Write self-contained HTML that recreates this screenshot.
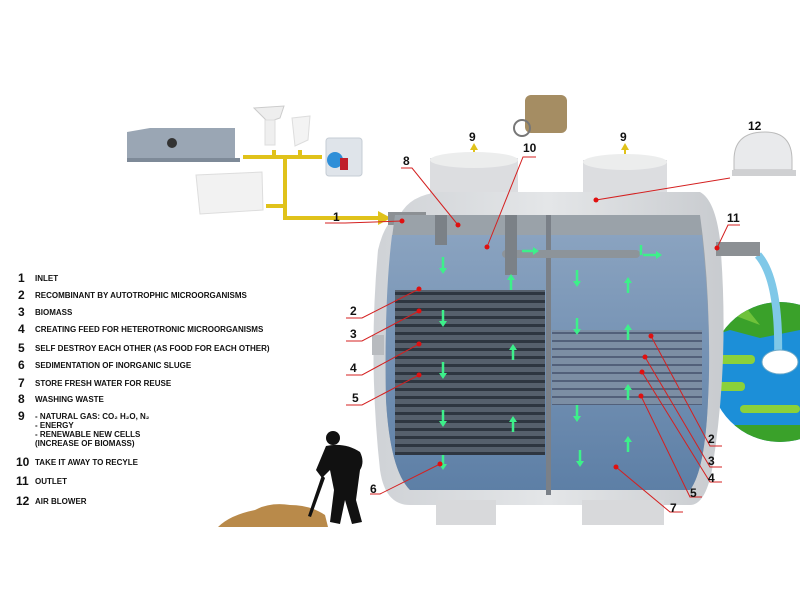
<!DOCTYPE html>
<html><head><meta charset="utf-8"><style>
body{margin:0;background:#fff;}
svg text{font-family:"Liberation Sans",Arial,sans-serif;font-weight:bold;}
</style></head><body>
<svg width="800" height="600" viewBox="0 0 800 600" xmlns="http://www.w3.org/2000/svg">
<defs>
<linearGradient id="water" x1="0" y1="0" x2="0" y2="1"><stop offset="0" stop-color="#8aa3c0"/><stop offset="1" stop-color="#5d7fa6"/></linearGradient>
<linearGradient id="shell" x1="0" y1="0" x2="1" y2="0"><stop offset="0" stop-color="#cfd2d6"/><stop offset="0.5" stop-color="#e4e6e8"/><stop offset="1" stop-color="#c8cbcf"/></linearGradient>
<pattern id="grid" width="8" height="8" patternUnits="userSpaceOnUse"><rect width="8" height="8" fill="#56606c"/><rect width="8" height="3" y="4" fill="#2e3640"/></pattern>
<pattern id="grid2" width="8" height="8" patternUnits="userSpaceOnUse"><rect width="8" height="8" fill="#7c8ea4"/><rect width="8" height="2" y="4" fill="#52607a"/></pattern>
<clipPath id="earth"><circle cx="780" cy="372" r="70"/></clipPath>
</defs>

<!-- Legend -->
<g font-size="8" fill="#111">
<text x="18" y="282" font-size="12">1</text><text x="35" y="281">INLET</text>
<text x="18" y="299" font-size="12">2</text><text x="35" y="298">RECOMBINANT BY AUTOTROPHIC MICROORGANISMS</text>
<text x="18" y="316" font-size="12">3</text><text x="35" y="315">BIOMASS</text>
<text x="18" y="333" font-size="12">4</text><text x="35" y="332">CREATING FEED FOR HETEROTRONIC MICROORGANISMS</text>
<text x="18" y="352" font-size="12">5</text><text x="35" y="351">SELF DESTROY EACH OTHER (AS FOOD FOR EACH OTHER)</text>
<text x="18" y="369" font-size="12">6</text><text x="35" y="368">SEDIMENTATION OF INORGANIC SLUGE</text>
<text x="18" y="387" font-size="12">7</text><text x="35" y="386">STORE FRESH WATER FOR REUSE</text>
<text x="18" y="403" font-size="12">8</text><text x="35" y="402">WASHING WASTE</text>
<text x="18" y="420" font-size="12">9</text><text x="35" y="419">- NATURAL GAS: CO₂ H₂O, N₂</text>
<text x="35" y="428">- ENERGY</text><text x="35" y="437">- RENEWABLE NEW CELLS</text><text x="35" y="446">(INCREASE OF BIOMASS)</text>
<text x="16" y="466" font-size="12">10</text><text x="35" y="465">TAKE IT AWAY TO RECYLE</text>
<text x="16" y="485" font-size="12">11</text><text x="35" y="484">OUTLET</text>
<text x="16" y="505" font-size="12">12</text><text x="35" y="504">AIR BLOWER</text>
</g>

<!-- Appliances -->
<path d="M127 160 L127 132 L150 128 L235 128 L235 158 L240 160 Z" fill="#9aa6b4"/>
<rect x="127" y="158" width="113" height="4" fill="#7e8a98"/>
<circle cx="172" cy="143" r="5" fill="#333"/>
<path d="M196 175 L262 172 L263 210 L200 214 Z" fill="#f2f2f2" stroke="#ddd"/>
<path d="M254 108 L284 106 L280 118 L268 122 Z" fill="#eee" stroke="#ccc"/><rect x="265" y="120" width="10" height="25" fill="#efefef" stroke="#ddd"/>
<path d="M292 118 L310 116 L308 140 L295 146 Z" fill="#f3f3f3" stroke="#ddd"/>
<rect x="326" y="138" width="36" height="38" rx="3" fill="#dfe4ea" stroke="#c5ccd4"/><circle cx="335" cy="160" r="8" fill="#2f8fd8"/><rect x="340" y="158" width="8" height="12" fill="#c0202c"/>

<!-- Yellow pipes -->
<g stroke="#e0c21a" stroke-width="4" fill="none">
<path d="M243 157 L322 157"/><path d="M274 157 L274 150 M300 157 L300 150"/>
<path d="M285 157 L285 218 L380 218"/><path d="M266 206 L285 206"/>
</g>
<polygon points="378,211 391,218 378,225" fill="#e0c21a"/>
<line x1="474" y1="176" x2="474" y2="148" stroke="#e0c21a" stroke-width="2"/><polygon points="470,150 474,143 478,150" fill="#e0c21a"/>
<line x1="625" y1="176" x2="625" y2="148" stroke="#e0c21a" stroke-width="2"/><polygon points="621,150 625,143 629,150" fill="#e0c21a"/>

<!-- Bicycle/bag -->
<rect x="525" y="95" width="42" height="38" rx="6" fill="#a58d63"/><circle cx="522" cy="128" r="8" fill="none" stroke="#777" stroke-width="2"/>

<!-- Blower -->
<path d="M734 160 Q734 132 765 132 Q792 132 792 160 L792 170 L734 170 Z" fill="#e9eaec" stroke="#bbb"/>
<rect x="732" y="170" width="64" height="6" fill="#cfd0d2"/>

<!-- Earth -->
<g clip-path="url(#earth)">
<rect x="700" y="300" width="100" height="150" fill="#1c8fd8"/>
<path d="M700 300 L800 300 L800 330 L760 338 L730 330 L700 340 Z" fill="#3aa12a"/>
<path d="M720 310 L740 300 L760 325 Z" fill="#6fc23a"/>
<rect x="715" y="355" width="40" height="9" rx="4" fill="#8bd13a"/>
<rect x="705" y="382" width="40" height="9" rx="4" fill="#8bd13a"/>
<rect x="740" y="405" width="60" height="8" rx="4" fill="#8bd13a"/>
<path d="M700 425 L800 425 L800 450 L700 450 Z" fill="#3aa12a"/>
</g>
<path d="M758 255 Q780 280 778 360" stroke="#7fc8e8" stroke-width="8" fill="none"/>
<ellipse cx="780" cy="362" rx="18" ry="12" fill="#fff" stroke="#6aa8c8"/>

<!-- Tank shell -->
<rect x="430" y="158" width="88" height="45" fill="#dcdde0"/><ellipse cx="474" cy="160" rx="44" ry="8" fill="#eceded"/>
<rect x="583" y="160" width="84" height="43" fill="#dcdde0"/><ellipse cx="625" cy="162" rx="42" ry="8" fill="#eceded"/>
<path d="M400 215 Q410 195 440 192 L700 192 Q715 200 720 240 Q730 360 712 470 Q705 505 690 505 L410 505 Q385 505 380 470 Q368 360 378 250 Q385 220 400 215 Z" fill="url(#shell)"/>
<rect x="388" y="212" width="38" height="13" fill="#8c9094"/>
<rect x="716" y="242" width="44" height="14" fill="#8c9094"/>
<rect x="372" y="335" width="12" height="20" fill="#b8bbbf"/>
<rect x="436" y="500" width="60" height="25" fill="#d8d9db"/><rect x="582" y="500" width="82" height="25" fill="#d8d9db"/>
<!-- interior -->
<path d="M395 215 L700 215 Q712 300 708 400 Q705 470 690 490 L410 490 Q390 470 386 400 Q384 290 395 215 Z" fill="#9aa2a9"/>
<path d="M392 235 L702 235 Q712 330 708 400 Q705 470 690 490 L410 490 Q390 470 386 400 Q384 300 392 235 Z" fill="url(#water)"/>
<rect x="395" y="290" width="150" height="165" fill="url(#grid)"/>
<rect x="552" y="330" width="150" height="75" fill="url(#grid2)"/>
<rect x="546" y="215" width="5" height="280" fill="#7a8088"/>
<rect x="502" y="250" width="138" height="8" rx="4" fill="#8d949a"/>
<rect x="505" y="215" width="12" height="60" fill="#7b8187"/>
<rect x="435" y="215" width="12" height="30" fill="#7b8187"/>

<!-- green arrows -->
<g fill="#3df08a" stroke="#3df08a" stroke-width="2.5">
<path d="M443 257 v12 M443 310 v12 M443 362 v12 M443 410 v12 M443 455 v10 M577 270 v12 M577 318 v12 M577 405 v12 M580 450 v12" fill="none"/>
<path d="M511 290 v-12 M513 360 v-12 M513 432 v-12 M628 293 v-12 M628 340 v-12 M628 400 v-12 M628 452 v-12 M641 255 v-10 M522 251 h12 M643 255 h14" fill="none"/>
</g>
<g fill="#3df08a">
<polygon points="439,268 447,268 443,274"/><polygon points="439,321 447,321 443,327"/><polygon points="439,373 447,373 443,379"/><polygon points="439,421 447,421 443,427"/><polygon points="439,464 447,464 443,470"/>
<polygon points="573,281 581,281 577,287"/><polygon points="573,329 581,329 577,335"/><polygon points="573,416 581,416 577,422"/><polygon points="576,461 584,461 580,467"/>
<polygon points="507,280 515,280 511,274"/><polygon points="509,350 517,350 513,344"/><polygon points="509,422 517,422 513,416"/>
<polygon points="624,283 632,283 628,277"/><polygon points="624,330 632,330 628,324"/><polygon points="624,390 632,390 628,384"/><polygon points="624,442 632,442 628,436"/>
<polygon points="533,247 533,255 539,251"/><polygon points="656,251 656,259 662,255"/>
</g>

<!-- red leader lines and dots -->
<g stroke="#d42020" stroke-width="1" fill="none">
<path d="M325 223 L345 223 L402 221"/>
<path d="M346 318 L362 318 L419 289"/><path d="M346 341 L362 341 L419 311"/><path d="M346 375 L362 375 L419 344"/><path d="M346 405 L362 405 L419 375"/>
<path d="M370 494 L380 494 L440 464"/>
<path d="M401 168 L412 168 L458 225"/><path d="M536 157 L523 157 L487 247"/>
<path d="M596 200 L730 178"/><path d="M740 225 L728 225 L717 248"/>
<path d="M722 446 L710 446 L651 336"/><path d="M722 467 L710 467 L645 357"/><path d="M722 482 L710 482 L642 372"/><path d="M702 497 L690 497 L641 396"/><path d="M683 512 L670 512 L616 467"/>
</g>
<g fill="#e01010">
<circle cx="402" cy="221" r="2.5"/><circle cx="419" cy="289" r="2.5"/><circle cx="419" cy="311" r="2.5"/><circle cx="419" cy="344" r="2.5"/><circle cx="419" cy="375" r="2.5"/>
<circle cx="440" cy="464" r="2.5"/><circle cx="458" cy="225" r="2.5"/><circle cx="487" cy="247" r="2.5"/><circle cx="596" cy="200" r="2.5"/><circle cx="717" cy="248" r="2.5"/>
<circle cx="651" cy="336" r="2.5"/><circle cx="645" cy="357" r="2.5"/><circle cx="642" cy="372" r="2.5"/><circle cx="641" cy="396" r="2.5"/><circle cx="616" cy="467" r="2.5"/>
</g>
<g font-size="12" fill="#111">
<text x="333" y="221">1</text><text x="350" y="315">2</text><text x="350" y="338">3</text><text x="350" y="372">4</text><text x="352" y="402">5</text><text x="370" y="493">6</text>
<text x="403" y="165">8</text><text x="469" y="141">9</text><text x="620" y="141">9</text><text x="523" y="152">10</text><text x="727" y="222">11</text><text x="748" y="130">12</text>
<text x="708" y="443">2</text><text x="708" y="465">3</text><text x="708" y="482">4</text><text x="690" y="497">5</text><text x="670" y="512">7</text>
</g>

<!-- Dirt pile and man -->
<path d="M218 527 Q230 515 255 510 Q270 502 290 505 Q310 505 325 515 L328 527 Z" fill="#b98a4a"/>
<g fill="#111">
<circle cx="333" cy="438" r="7"/>
<path d="M326 446 Q345 442 360 452 Q365 462 360 470 L356 500 L362 522 L352 524 L345 500 L340 524 L330 522 L334 490 L330 470 L322 478 L316 470 Z"/>
<path d="M322 475 L308 516 L311 517 L325 478 Z"/>
</g>
</svg>
</body></html>
